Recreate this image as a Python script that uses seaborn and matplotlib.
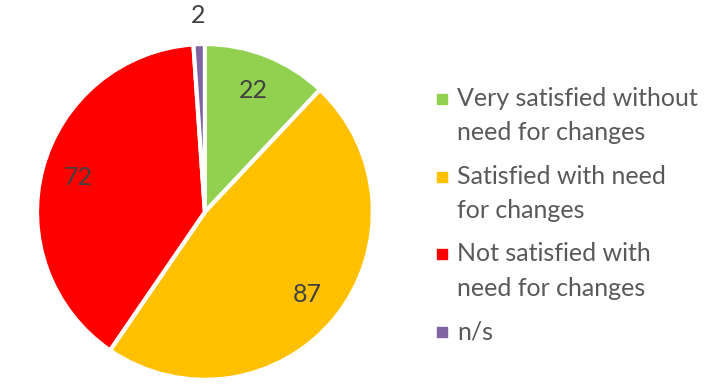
import matplotlib.pyplot as plt
import numpy as np
import seaborn as sns

categories = ["Very satisfied without\nneed for changes",
              "Satisfied with need\nfor changes",
              "Not satisfied with\nneed for changes",
              "n/s"]
values = [22, 87, 72, 2]
colors = ["#92D050", "#FFC000", "#FF0000", "#8064A2"]
label_dist = [0.78, 0.78, 0.78, 1.17]

sns.set_style("white")
plt.rcParams["font.family"] = ["Lato", "DejaVu Sans"]

fig = plt.figure(figsize=(7.19, 3.90), dpi=100)
ax = fig.add_axes([0.0515, 0.0256, 0.467, 0.862])

wedges, _ = ax.pie(values, colors=colors, startangle=90, counterclock=False,
                   wedgeprops=dict(edgecolor="white", linewidth=3))
ax.set_aspect("equal")
ax.set_xlim(-1, 1)
ax.set_ylim(-1, 1)
ax.axis("off")

# value labels
for w, v, d in zip(wedges, values, label_dist):
    ang = np.deg2rad((w.theta1 + w.theta2) / 2)
    ax.text(d * np.cos(ang), d * np.sin(ang), str(v), ha="center", va="center",
            fontsize=18, color="#404040", clip_on=False)

# legend drawn by hand so the marker sits on the first text line
y0 = 1 - 99 / 390
step = 77.7 / 390
for i, (lab, c) in enumerate(zip(categories, colors)):
    y = y0 - i * step
    fig.patches.append(plt.Rectangle((437 / 719, y - 5 / 390), 10 / 719, 10 / 390,
                                     transform=fig.transFigure, color=c))
    fig.text(457 / 719, y + 12 / 390, lab, ha="left", va="top", fontsize=18,
             color="#595959", linespacing=1.6)

fig.savefig("out.png", dpi=100)
